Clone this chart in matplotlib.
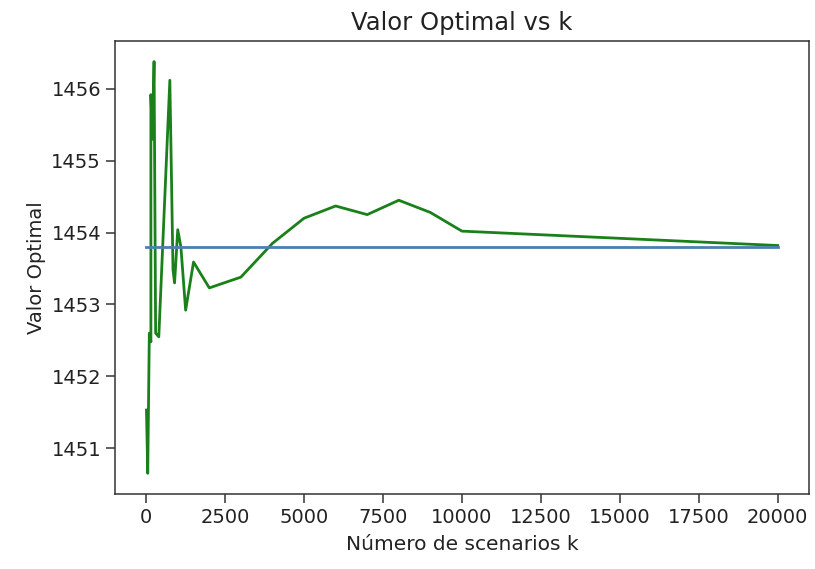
import matplotlib
matplotlib.use('Agg')
import matplotlib.pyplot as plt

# scenario counts and optimal values
k = [10, 50, 100, 150, 150, 200, 250, 300, 400, 750, 850, 900,
     1000, 1100, 1250, 1500, 2000, 3000, 4000, 5000, 6000, 7000,
     8000, 9000, 10000, 20000]
valor = [1451.53, 1450.65, 1452.60, 1452.48, 1455.92, 1455.30, 1456.38,
         1452.60, 1452.55, 1456.12, 1453.48, 1453.30, 1454.04, 1453.80,
         1452.92, 1453.59, 1453.23, 1453.38, 1453.85, 1454.20, 1454.37,
         1454.25, 1454.45, 1454.28, 1454.02, 1453.82]
referencia = 1453.80

fig = plt.figure(figsize=(8.15, 5.69), dpi=100)
ax = fig.add_axes([0.141, 0.132, 0.852, 0.796])

ax.plot(k, valor, color='#1a801a', linewidth=2.0)
ax.plot(k, [referencia] * len(k), color='#4a80b0', linewidth=2.0)

ax.set_title('Valor Optimal vs k', fontsize=17.5, pad=8, color='#222222')
ax.set_xlabel('Número de scenarios k', fontsize=14.5, labelpad=6, color='#222222')
ax.set_ylabel('Valor Optimal', fontsize=14, color='#222222')
ax.tick_params(labelsize=14, length=6.5, width=1.1, colors='#333333',
               labelcolor='#222222')
for s in ax.spines.values():
    s.set_linewidth(1.1)
    s.set_color('#333333')

plt.savefig('out.png', dpi=100)
